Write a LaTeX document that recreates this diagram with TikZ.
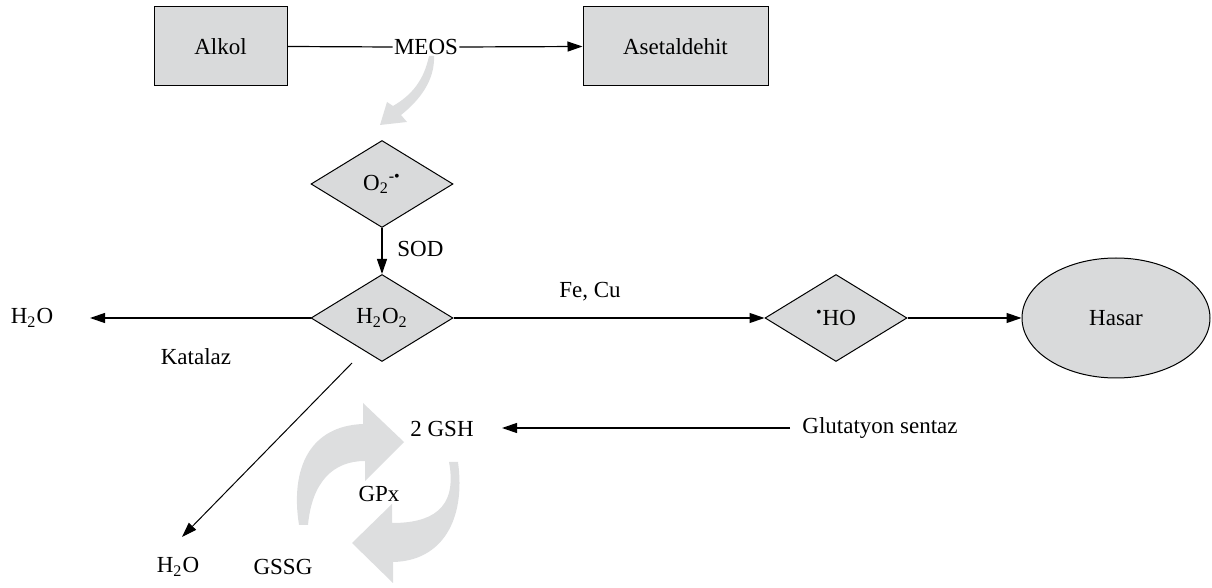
\documentclass[tikz,border=0pt]{standalone}
\usepackage{fontspec}
\setmainfont{Liberation Serif}
\usetikzlibrary{shapes.geometric,arrows.meta}
\definecolor{boxgray}{RGB}{217,218,219}
\definecolor{arrgray}{RGB}{221,222,223}
\begin{document}
\begin{tikzpicture}[x=0.5pt,y=-0.5pt,
  every node/.style={font=\fontsize{11.5}{13}\selectfont},
  box/.style={draw,fill=boxgray,line width=0.5pt,minimum height=39.5pt,inner sep=0},
  dia/.style={draw,fill=boxgray,diamond,minimum width=71pt,minimum height=43.5pt,inner sep=0,line width=0.5pt},
  oval/.style={draw,fill=boxgray,ellipse,minimum width=94pt,minimum height=60pt,inner sep=0,line width=0.5pt},
  lbl/.style={inner sep=1pt},
  arr/.style={-{Triangle[length=7.5pt,width=5pt]},line width=0.6pt},
  ln/.style={line width=0.6pt},
  bigarr/.style={fill=arrgray,draw=none}]
\useasboundingbox (0,0) rectangle (1212,588);

% gray curved arrows
\fill[bigarr] (429,56) .. controls (424,80) and (412,95) .. (393,106) -- (387,102) -- (380,125) -- (407,122) -- (401,115) .. controls (420,100) and (435,80) .. (434,56) -- cycle;
\fill[bigarr] (299,525) .. controls (290,468) and (310,426) .. (363,424) -- (363,403) -- (404,442) -- (365,481) -- (365,461) .. controls (333,461) and (312,482) .. (308,525) -- cycle;
\fill[bigarr] (449,462) .. controls (458,510) and (430,523) .. (392,523) -- (392,504) -- (352,543) -- (393,583) -- (393,562) .. controls (442,561) and (466,520) .. (458,462) -- cycle;

% nodes
\node[box,minimum width=66.5pt] (alkol) at (220.5,46.5) {Alkol};
\node[box,minimum width=92.5pt] (aset) at (675.5,46.5) {Asetaldehit};
\node[lbl,inner sep=0.5pt] (meos) at (426,47) {MEOS};
\node[dia] (o2) at (382,184) {O\textsubscript{2}\textsuperscript{-\textbullet}};
\node[lbl,anchor=west] (sod) at (395,249) {SOD};
\node[dia] (h2o2) at (382,318) {H\textsubscript{2}O\textsubscript{2}};
\node[lbl] (h2oL) at (32,318) {H\textsubscript{2}O};
\coordinate (h2oLend) at (90,318);
\node[lbl] (katalaz) at (196,357) {Katalaz};
\node[lbl] (fecu) at (590,292) {Fe, Cu};
\node[dia] (ho) at (836,318) {\textsuperscript{\textbullet}HO};
\node[oval] (hasar) at (1116,318) {Hasar};
\coordinate (dstart) at (352,363);
\coordinate (dend) at (182,537);
\node[lbl] (h2oB) at (178,567) {H\textsubscript{2}O};
\node[lbl] (gssg) at (283,567) {GSSG};
\node[lbl] (gsh) at (442,429) {2 GSH};
\node[lbl] (gpx) at (379,494) {GPx};
\node[lbl] (glut) at (880,428) {Glutatyon sentaz};
\coordinate (gstart) at (790,428);
\coordinate (gend) at (502,428);

% connectors
\draw[ln] (alkol.east) -- (meos.west);
\draw[arr] (meos.east) -- (aset.west);
\draw[arr] (o2.south) -- (h2o2.north);
\draw[arr] (h2o2.west) -- (h2oLend);
\draw[arr] (h2o2.east) -- (ho.west);
\draw[arr] (ho.east) -- (hasar.west);
\draw[arr,line width=0.5pt] (dstart) -- (dend);
\draw[arr] (gstart) -- (gend);
\end{tikzpicture}
\end{document}
